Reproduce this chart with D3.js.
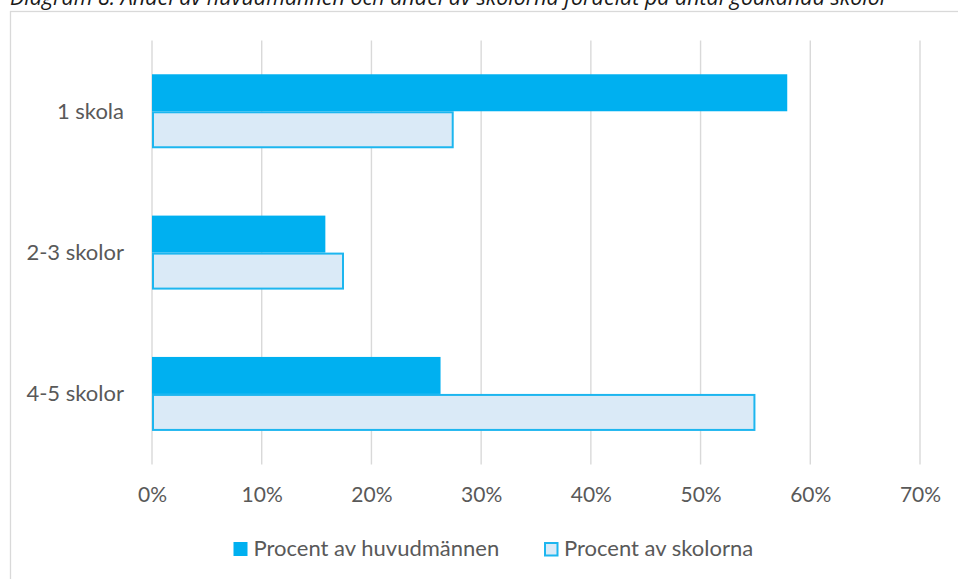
<!DOCTYPE html>
<html><head><meta charset="utf-8">
<script src="https://cdn.jsdelivr.net/npm/d3@7"></script>
<style>html,body{margin:0;padding:0;background:#fff;overflow:hidden}</style>
</head><body>
<script>
const titleText = "Diagram 8: Andel av huvudmännen och andel av skolorna fördelat på antal godkända skolor";
const categories = ["1 skola", "2-3 skolor", "4-5 skolor"];
const seriesNames = ["Procent av huvudmännen", "Procent av skolorna"];
const huvudman = [0.579, 0.158, 0.263];
const skolor = [0.275, 0.175, 0.550];
const tickValues = [0, 0.1, 0.2, 0.3, 0.4, 0.5, 0.6, 0.7];

const W = 958, H = 579;
const svg = d3.select("body").append("svg").attr("width", W).attr("height", H);
const FONT = "Lato, 'Open Sans', sans-serif";
const TXT = "#595959";
const GRID = "#d9d9d9";
const DARK = "#00B0F0";
const LIGHT = "#DAEAF7";

// chart border
svg.append("rect").attr("x", 10.5).attr("y", 11.5).attr("width", 1200).attr("height", 1200)
  .attr("fill", "none").attr("stroke", GRID).attr("stroke-width", 1.3);

// title (clipped at top, as in the reference)
const title = svg.append("text").attr("x", 10).attr("y", 5)
  .attr("font-family", "'Open Sans', sans-serif").attr("font-style", "italic")
  .attr("font-size", 20).attr("fill", "#1a1a1a").text(titleText);
const tw = title.node().getComputedTextLength();
title.attr("font-size", 20 * 879 / tw);

const x = d3.scaleLinear().domain([0, 0.7]).range([152, 920]);
const y = d3.scaleBand().domain(categories).range([40.6, 464.6]).padding(0);
const groupH = y.bandwidth() / 1.91;

// gridlines
svg.append("g").selectAll("line").data(tickValues).join("line")
  .attr("x1", d => x(d)).attr("x2", d => x(d))
  .attr("y1", 40.6).attr("y2", 464.6)
  .attr("stroke", GRID).attr("stroke-width", 1.4);

// bars
const data = categories.map((c, i) => ({c, vals: [huvudman[i], skolor[i]]}));
const g = svg.append("g");
data.forEach(d => {
  const cy = y(d.c) + y.bandwidth() / 2;
  const sub = d3.scaleBand().domain(seriesNames).range([cy - groupH / 2, cy + groupH / 2]).padding(0);
  g.append("rect").attr("x", x(0)).attr("y", sub(seriesNames[0]))
    .attr("width", x(d.vals[0]) - x(0)).attr("height", sub.bandwidth())
    .attr("fill", DARK);
  g.append("rect").attr("x", x(0) + 1).attr("y", sub(seriesNames[1]) + 1)
    .attr("width", x(d.vals[1]) - x(0) - 2).attr("height", sub.bandwidth() - 2)
    .attr("fill", LIGHT).attr("stroke", "#1DB6EF").attr("stroke-width", 2);
});

// category labels
svg.append("g").selectAll("text").data(categories).join("text")
  .attr("x", 124).attr("y", d => y(d) + y.bandwidth() / 2 + 7.5)
  .attr("text-anchor", "end").attr("font-family", FONT).attr("font-size", 22)
  .attr("fill", TXT).text(d => d);

// x axis tick labels
const xAxis = d3.axisBottom(x).tickValues(tickValues).tickFormat(d3.format(".0%")).tickSize(0).tickPadding(0);
const ax = svg.append("g").attr("transform", "translate(0,487.5)").call(xAxis);
ax.select(".domain").remove();
ax.selectAll("text").attr("font-family", FONT).attr("font-size", 21).attr("fill", TXT).attr("dy", "0.71em");

// legend
const legX = [233.5, 544];
const leg = svg.append("g");
seriesNames.forEach((s, i) => {
  if (i === 0) {
    leg.append("rect").attr("x", legX[i]).attr("y", 542).attr("width", 14).attr("height", 14).attr("fill", DARK);
  } else {
    leg.append("rect").attr("x", legX[i] + 1).attr("y", 543).attr("width", 12.5).attr("height", 12.5)
      .attr("fill", LIGHT).attr("stroke", "#1DB6EF").attr("stroke-width", 2);
  }
  leg.append("text").attr("x", legX[i] + 20).attr("y", 556)
    .attr("font-family", FONT).attr("font-size", 22).attr("fill", TXT).text(s);
});
</script>
</body></html>
